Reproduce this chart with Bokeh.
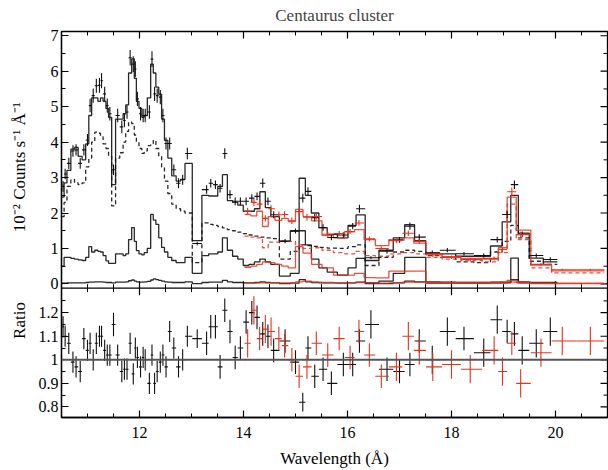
import numpy as np
from bokeh.plotting import figure
from bokeh.models import Range1d, SingleIntervalTicker, FixedTicker, Span, CustomJSTickFormatter
from bokeh.core.properties import value
from bokeh.layouts import row
from bokeh.embed import file_html
from bokeh.resources import INLINE

FONT = "Liberation Serif"

# ---------------- black (RGS1) ----------------
bk_lam = [10.53,10.57,10.64,10.72,10.78,10.86,10.93,11.00,11.05,11.11,11.17,11.23,11.27,11.33,11.38,11.43,11.50,11.58,11.66,11.71,
          11.76,11.82,11.88,11.92,11.96,12.02,12.07,12.11,12.19,12.24,12.29,12.34,12.40,12.45,12.51,12.58,12.66,12.75,12.83,12.92,
          13.11,13.29,13.37,13.46,13.55,13.64,13.74,13.84,13.94,14.05,14.16,14.26,14.37,14.47,14.58,
          14.80,15.00,
          15.14,15.24,15.37,15.53,15.69,15.92,16.10,16.23,
          16.45,
          16.76,17.00,17.20,17.38,17.63,17.92,18.24,18.62,18.88,19.07,19.21,19.36,19.63,19.90]
bk_flux = [2.75,3.10,3.40,3.75,3.78,3.40,3.78,4.06,5.03,5.31,5.59,5.60,5.73,5.36,5.03,4.80,3.22,4.75,4.43,4.61,
           4.85,6.38,6.20,6.06,5.22,4.80,4.75,4.75,4.85,6.34,5.36,5.31,5.27,4.75,3.96,3.96,3.22,2.84,2.94,3.68,
           1.14,2.66,2.84,2.80,2.70,3.68,2.52,2.33,2.33,2.33,2.42,2.47,2.84,2.33,1.95,
           1.21,1.49,
           2.42,2.61,1.87,1.59,1.31,1.38,1.63,2.12,
           0.74,
           0.92,1.24,1.63,1.32,0.88,0.95,0.85,0.80,1.25,1.96,2.80,1.40,0.80,0.69]
bk_ferr = [0.15,0.15,0.16,0.16,0.16,0.15,0.16,0.17,0.19,0.20,0.20,0.21,0.21,0.20,0.20,0.19,0.15,0.19,0.18,0.19,
           0.19,0.22,0.22,0.22,0.20,0.19,0.19,0.19,0.19,0.22,0.20,0.20,0.20,0.19,0.17,0.17,0.15,0.14,0.14,0.16,
           0.05,0.12,0.12,0.12,0.12,0.15,0.12,0.11,0.11,0.11,0.11,0.11,0.13,0.11,0.10,
           0.06,0.07,
           0.12,0.12,0.10,0.09,0.08,0.08,0.09,0.11,
           0.04,
           0.06,0.08,0.10,0.08,0.06,0.06,0.05,0.06,0.08,0.10,0.12,0.08,0.06,0.06]
bk_ratio = [1.14,1.10,1.07,0.99,0.97,0.95,1.09,1.04,1.07,1.00,1.07,1.10,1.10,1.04,1.02,1.02,1.15,1.02,0.95,0.96,
            0.96,1.07,0.94,1.05,1.01,0.97,1.01,1.00,0.90,1.02,0.90,0.95,0.99,1.02,0.97,1.12,1.05,0.97,1.00,1.10,
            1.09,1.07,1.14,1.14,0.97,1.21,1.12,1.01,1.05,1.16,1.20,1.18,1.11,1.10,1.04,
            1.08,0.99,
            0.82,1.05,0.93,0.96,0.90,0.98,0.98,1.08,
            1.15,
            0.96,0.95,0.98,1.08,1.00,1.12,1.09,1.03,1.17,1.12,1.11,1.04,1.07,1.12]
bk_rerr = [0.045,0.045,0.045,0.045,0.045,0.045,0.045,0.045,0.045,0.045,0.045,0.045,0.045,0.045,0.045,0.045,0.05,0.045,0.045,0.045,
           0.045,0.045,0.045,0.045,0.045,0.045,0.045,0.045,0.045,0.045,0.045,0.045,0.045,0.045,0.045,0.045,0.045,0.045,0.045,0.045,
           0.04,0.05,0.05,0.05,0.05,0.05,0.05,0.05,0.05,0.05,0.05,0.05,0.05,0.05,0.05,
           0.05,0.05,
           0.04,0.05,0.05,0.05,0.05,0.05,0.05,0.05,
           0.06,
           0.05,0.05,0.05,0.05,0.06,0.06,0.05,0.06,0.06,0.05,0.05,0.06,0.06,0.06]
bk_tot = [2.45,2.85,3.20,3.80,3.85,3.60,3.50,3.95,4.75,5.25,5.25,5.15,5.25,5.15,4.95,4.70,2.80,4.65,4.65,4.80,
          5.05,5.95,6.35,5.80,5.15,4.95,4.70,4.75,5.25,6.20,5.95,5.55,5.35,4.65,4.05,3.55,3.05,2.90,2.95,3.40,
          1.22,2.50,2.48,2.48,2.75,3.08,2.35,2.30,2.22,2.05,2.05,2.12,2.60,2.15,1.90,
          1.20,1.50,
          2.98,2.50,2.00,1.58,1.40,1.30,1.65,1.95,
          0.66,
          0.95,1.30,1.67,1.22,0.87,0.85,0.78,0.78,1.07,1.75,2.50,1.43,0.73,0.62]
bk_dash = [1.90,2.30,2.75,2.95,2.85,2.80,2.85,3.30,3.55,4.00,4.28,4.25,4.15,3.95,3.82,3.60,2.20,3.55,3.70,4.00,
           4.30,4.57,4.52,4.20,4.00,3.82,3.68,3.75,3.90,3.96,4.05,3.82,3.60,3.30,2.90,2.55,2.25,2.12,2.05,2.00,
           0.60,1.72,1.68,1.65,1.62,1.58,1.53,1.50,1.46,1.42,1.38,1.35,1.32,1.30,1.28,
           0.70,0.92,
           1.10,1.08,1.06,1.03,1.01,1.00,1.05,1.10,
           0.52,
           0.75,0.90,0.95,0.92,0.80,0.75,0.62,0.60,0.90,1.20,1.65,1.30,0.64,0.55]
bk_low = [0.50,0.75,0.75,0.72,0.70,0.68,0.66,0.75,1.05,0.90,0.95,0.92,0.90,0.80,0.65,0.58,0.58,0.85,0.85,0.80,
          0.85,1.25,1.59,1.20,0.94,0.85,0.82,0.88,1.00,1.96,1.80,1.68,1.30,1.03,0.90,0.75,0.66,0.60,0.60,0.75,
          0.30,0.80,0.85,0.85,0.90,1.30,0.95,0.78,0.70,0.52,0.55,0.62,0.70,0.62,0.55,
          0.22,0.30,
          1.50,1.10,0.70,0.45,0.33,0.25,0.45,0.72,
          0.03,
          0.08,0.30,0.75,0.75,0.06,0.05,0.04,0.04,0.05,0.05,0.73,0.06,0.04,0.04]
bk_bot = [0.02,0.02,0.03,0.03,0.03,0.03,0.03,0.04,0.05,0.05,0.06,0.06,0.06,0.05,0.04,0.04,0.03,0.05,0.05,0.05,
          0.06,0.09,0.11,0.08,0.06,0.05,0.05,0.06,0.07,0.11,0.14,0.12,0.10,0.08,0.06,0.05,0.04,0.04,0.04,0.06,
          0.01,0.04,0.05,0.05,0.05,0.10,0.06,0.04,0.04,0.03,0.03,0.04,0.06,0.04,0.03,
          0.01,0.02,
          0.12,0.06,0.04,0.03,0.03,0.02,0.03,0.05,
          0.01,
          0.01,0.03,0.08,0.06,0.02,0.02,0.02,0.02,0.03,0.03,0.12,0.03,0.02,0.02]

# ---------------- red (RGS2) ----------------
rd_lam = [14.08,14.20,14.31,14.42,14.53,14.68,14.79,14.93,15.07,15.22,15.40,15.62,15.84,16.05,16.22,16.42,16.65,16.94,17.17,17.38,
          17.64,18.00,18.36,18.82,18.98,19.16,19.33,19.72,20.13,20.67]
rd_flux = [2.05,2.30,2.25,1.85,2.12,1.95,1.96,1.78,2.04,1.88,1.90,1.40,1.42,1.48,1.72,1.27,1.00,1.22,1.43,1.20,
           0.82,0.75,0.69,0.72,0.97,2.60,1.39,0.55,0.40,0.40]
rd_ferr = [0.10,0.10,0.10,0.09,0.10,0.09,0.09,0.09,0.10,0.09,0.08,0.07,0.07,0.07,0.08,0.07,0.06,0.07,0.08,0.07,
           0.06,0.05,0.05,0.05,0.06,0.12,0.08,0.04,0.03,0.03]
rd_ratio = [1.07,1.21,1.09,1.13,1.12,1.09,1.06,1.00,0.93,0.97,1.07,1.02,1.09,1.01,1.12,1.02,0.93,0.97,1.10,1.04,
            0.97,0.98,0.96,1.04,0.95,1.07,0.90,1.03,1.08,1.08]
rd_rerr = [0.06,0.06,0.05,0.06,0.06,0.05,0.05,0.05,0.05,0.05,0.05,0.05,0.05,0.05,0.05,0.05,0.05,0.06,0.06,0.06,
           0.06,0.06,0.06,0.06,0.06,0.05,0.06,0.06,0.06,0.06]
rd_tot = [1.96,1.92,2.05,1.62,1.90,1.79,1.85,1.76,2.10,1.90,1.78,1.37,1.30,1.47,1.53,1.25,1.08,1.25,1.30,1.15,
          0.85,0.77,0.72,0.70,1.02,2.45,1.52,0.53,0.37,0.37]
rd_dash = [1.35,1.32,1.30,1.02,1.18,1.18,1.22,1.20,1.10,1.00,1.02,0.95,0.88,0.85,0.92,0.80,0.78,0.85,0.88,0.85,
           0.75,0.70,0.66,0.62,0.88,2.25,1.25,0.45,0.31,0.31]
rd_low = [0.47,0.50,0.55,0.62,0.60,0.55,0.50,0.45,1.05,0.87,0.55,0.45,0.25,0.25,0.30,0.18,0.17,0.36,0.36,0.36,
          0.05,0.04,0.04,0.04,0.05,0.10,0.05,0.03,0.02,0.02]
rd_bot = [0.02,0.02,0.03,0.03,0.03,0.03,0.03,0.03,0.06,0.08,0.05,0.04,0.03,0.03,0.04,0.03,0.02,0.03,0.05,0.05,
          0.02,0.02,0.02,0.02,0.02,0.05,0.03,0.01,0.01,0.01]

# ticks / texts
x_major = [12, 14, 16, 18, 20]
flux_major = [0, 1, 2, 3, 4, 5, 6, 7]
ratio_major = [0.8, 0.9, 1.0, 1.1, 1.2]
TITLE = "Centaurus cluster"
YLAB_TOP = "10⁻² Counts s⁻¹ Å⁻¹"
YLAB_BOT = "Ratio"
XLAB = "Wavelength (Å)"

BLACK = "#111111"
RED = "#e8301c"

# geometry: one frame holding both panels (upper 258 px, ratio 130 px)
W, H = 608, 470
LAB_W = 30                         # strip on the left holding the axis titles
X0, X1 = 10.5, 21.0
F_LO, F_HI = -0.12, 7.12           # visible flux span of the upper panel
R_LO, R_HI = 0.755, 1.304          # visible ratio span of the lower panel
TOP, H1, H2 = 29, 258.0, 130.0
FRAME_W = 546.0
F_BOT = F_LO - (F_HI - F_LO) / H1 * H2
R_TOP = R_HI + (R_HI - R_LO) / H2 * H1
F_PX = (F_HI - F_LO) / H1          # flux units per pixel
X_PX = (X1 - X0) / FRAME_W         # wavelength per pixel
MAJ, MIN = 7, 4                    # tick lengths in pixels


def r2f(r):
    return F_BOT + (r - R_LO) / (R_TOP - R_LO) * (F_HI - F_BOT)


def bin_edges(lam):
    lam = np.asarray(lam, float)
    mid = (lam[1:] + lam[:-1]) / 2
    lo = np.concatenate([[lam[0] - (lam[1] - lam[0]) / 2], mid])
    hi = np.concatenate([mid, [lam[-1] + (lam[-1] - lam[-2]) / 2]])
    return lo, hi


def step_xy(lo, hi, v):
    xs, ys = [], []
    for a, b, y in zip(lo, hi, v):
        xs += [a, b]
        ys += [y, y]
    return xs, ys


def style_axis(ax):
    ax.major_tick_in = MAJ
    ax.major_tick_out = 0
    ax.minor_tick_in = MIN
    ax.minor_tick_out = 0
    ax.axis_line_width = 1.3
    ax.axis_line_color = "black"
    ax.major_tick_line_color = "black"
    ax.minor_tick_line_color = "black"
    ax.major_tick_line_width = 1.2
    ax.minor_tick_line_width = 1.0
    ax.major_label_text_font = FONT
    ax.major_label_text_font_size = "16px"
    ax.major_label_text_color = "black"
    ax.axis_label_text_font = FONT
    ax.axis_label_text_font_size = "17px"
    ax.axis_label_text_font_style = "normal"
    ax.axis_label_text_color = "black"
    ax.major_label_standoff = 3


p = figure(width=W - LAB_W, height=H, x_range=Range1d(X0, X1), y_range=Range1d(F_BOT, F_HI),
           output_backend="svg", toolbar_location=None,
           min_border_left=61 - LAB_W, min_border_right=1, min_border_top=TOP, min_border_bottom=53)
p.extra_y_ranges = {"ratio": Range1d(R_LO, R_TOP)}
p.grid.visible = False
p.outline_line_color = "black"
p.outline_line_width = 1.3
p.title.text = TITLE
p.title.align = "center"
p.title.vertical_align = "top"
p.title.text_font = FONT
p.title.text_font_size = "17px"
p.title.text_font_style = "normal"

# x axis (below)
xt = SingleIntervalTicker(interval=2, num_minor_ticks=4)
p.xaxis.ticker = xt
style_axis(p.xaxis[0])
p.xaxis.major_label_standoff = 9
p.xaxis.axis_label = XLAB
p.xaxis.axis_label_standoff = 8

# y axis (left): flux ticks in the upper panel, ratio ticks in the lower one
y_ticks = flux_major + [r2f(r) for r in ratio_major]
y_minor = [v + 0.5 for v in flux_major[:-1]] + [r2f(r + 0.05) for r in ratio_major]
yt = FixedTicker(ticks=y_ticks, minor_ticks=y_minor)
fmt = CustomJSTickFormatter(code=f"""
if (tick > {F_LO - 0.05}) {{ return String(Math.round(tick)); }}
const r = {R_LO} + (tick - ({F_BOT})) / ({F_HI - F_BOT}) * ({R_TOP - R_LO});
return String(Math.round(r * 10) / 10);
""")
p.yaxis.ticker = yt
p.yaxis.formatter = fmt
style_axis(p.yaxis[0])

# inward ticks on the top and right frame edges and on the panel boundary
x_minor = [v for v in np.arange(X0, X1 + 0.01, 0.5) if v not in x_major]
tick_kw = dict(line_color="black")
p.segment(x0=x_major, x1=x_major, y0=F_LO - MAJ * F_PX, y1=F_LO + MAJ * F_PX, line_width=1.2, **tick_kw)
p.segment(x0=x_minor, x1=x_minor, y0=F_LO - MIN * F_PX, y1=F_LO + MIN * F_PX, line_width=1.0, **tick_kw)
p.segment(x0=x_major, x1=x_major, y0=F_HI - MAJ * F_PX, y1=F_HI, line_width=1.2, **tick_kw)
p.segment(x0=x_minor, x1=x_minor, y0=F_HI - MIN * F_PX, y1=F_HI, line_width=1.0, **tick_kw)
p.segment(x0=X1 - MAJ * X_PX, x1=X1, y0=y_ticks, y1=y_ticks, line_width=1.2, **tick_kw)
p.segment(x0=X1 - MIN * X_PX, x1=X1, y0=y_minor, y1=y_minor, line_width=1.0, **tick_kw)
p.add_layout(Span(location=F_LO, dimension="width", line_color="black", line_width=1.3))

# ---------------- upper panel: models + data ----------------
bk_lo, bk_hi = bin_edges(bk_lam)
rd_lo, rd_hi = bin_edges(rd_lam)

for vals, dash in [(bk_tot, "solid"), (bk_dash, "4 3"), (bk_low, "solid"), (bk_bot, "solid")]:
    xs, ys = step_xy(bk_lo, bk_hi, vals)
    p.line(xs, ys, line_color=BLACK, line_width=1.3, line_dash=dash, line_alpha=0.9)
for vals, dash in [(rd_tot, "solid"), (rd_dash, "4 3"), (rd_low, "solid"), (rd_bot, "solid")]:
    xs, ys = step_xy(rd_lo, rd_hi, vals)
    p.line(xs, ys, line_color=RED, line_width=1.3, line_dash=dash, line_alpha=0.85)

bf = np.asarray(bk_flux); be = np.asarray(bk_ferr)
p.segment(x0=bk_lo, x1=bk_hi, y0=bf, y1=bf, line_color=BLACK, line_width=1.1)
p.segment(x0=bk_lam, x1=bk_lam, y0=bf - be, y1=bf + be, line_color=BLACK, line_width=1.1)
rf = np.asarray(rd_flux); re_ = np.asarray(rd_ferr)
p.segment(x0=rd_lo, x1=rd_hi, y0=rf, y1=rf, line_color=RED, line_width=1.1)
p.segment(x0=rd_lam, x1=rd_lam, y0=rf - re_, y1=rf + re_, line_color=RED, line_width=1.1)

# ---------------- lower panel: ratio ----------------
p.add_layout(Span(location=1.0, dimension="width", y_range_name="ratio",
                  line_color="#555555", line_width=2))
br = np.asarray(bk_ratio); bre = np.asarray(bk_rerr)
p.segment(x0=bk_lo, x1=bk_hi, y0=br, y1=br, y_range_name="ratio", line_color=BLACK, line_width=1.1)
p.segment(x0=bk_lam, x1=bk_lam, y0=br - bre, y1=br + bre, y_range_name="ratio", line_color=BLACK, line_width=1.1)
rr = np.asarray(rd_ratio); rre = np.asarray(rd_rerr)
p.segment(x0=rd_lo, x1=rd_hi, y0=rr, y1=rr, y_range_name="ratio", line_color=RED, line_width=1.1)
p.segment(x0=rd_lam, x1=rd_lam, y0=rr - rre, y1=rr + rre, y_range_name="ratio", line_color=RED, line_width=1.1)

# ---------------- left strip with the two y-axis titles ----------------
# its ranges are in pixels (y measured up from the bottom of the page)
lab = figure(width=LAB_W, height=H, x_range=Range1d(0, LAB_W), y_range=Range1d(0, H),
             output_backend="svg", toolbar_location=None,
             x_axis_location=None, y_axis_location=None,
             min_border_left=0, min_border_right=0, min_border_top=0, min_border_bottom=0)
lab.grid.visible = False
lab.outline_line_color = None
top_mid = H - (TOP + (F_HI - 3.3) / F_PX)
bot_mid = H - (TOP + H1 + (R_HI - 1.03) / (R_HI - R_LO) * H2)
lab.text(x=[19, 19], y=[top_mid, bot_mid], text=[YLAB_TOP, YLAB_BOT], angle=np.pi / 2,
         text_align="center", text_baseline="middle", text_font=value(FONT),
         text_font_size="17px", text_color="black")

layout = row(lab, p, spacing=0)
open("out.html", "w").write(file_html(layout, INLINE))
